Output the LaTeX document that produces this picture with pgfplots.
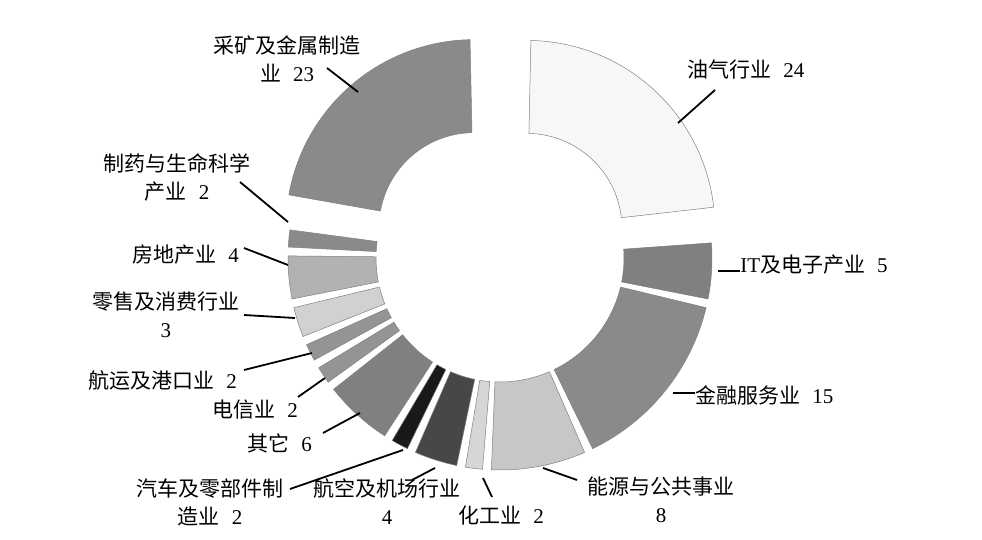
\documentclass[border=0pt]{standalone}
\usepackage{fontspec}
\setmainfont{Liberation Serif}
\newfontfamily\cjk{Noto Sans CJK SC}
\usepackage{pgfplots}
\usepackage{pgfplotstable}
\pgfplotsset{compat=1.18}

% sectors clockwise from 12 o'clock; shade = black percent
\pgfplotstableread[col sep=comma]{
sector,value,shade,explode,rin,rout
oil,24,3,40,95,188
it,5,50,0,124,212
finance,15,46,0,124,212
energy,8,22,0,124,212
chem,2,16,0,124,212
aviation,4,72,0,124,212
auto,2,90,0,124,212
other,6,50,0,124,212
telecom,2,42,0,124,212
shipping,2,42,0,124,212
retail,3,18,0,124,212
realestate,4,30,0,124,212
pharma,2,46,0,124,212
mining,23,46,40,95,188
}\datatable

\pgfplotstablegetrowsof{\datatable}
\pgfmathtruncatemacro\lastrow{\pgfplotsretval-1}
\def\total{0}
\pgfplotsforeachungrouped \i in {0,...,\lastrow}{%
  \pgfplotstablegetelem{\i}{value}\of\datatable
  \pgfmathsetmacro\total{\total+\pgfplotsretval}%
}

\newcommand\gap{\hspace{6bp}}

\begin{document}
\begin{tikzpicture}[font=\fontsize{10.5bp}{14bp}\selectfont]
\begin{axis}[
    x=0.5bp, y=0.5bp,
    xmin=0, xmax=982, ymin=0, ymax=540,
    y dir=reverse,
    hide axis,
    clip=false,
]
\path (rel axis cs:0,0) rectangle (rel axis cs:1,1);

\def\halfgap{1.2}
\def\cenx{500}
\def\ceny{258}
\def\curang{90}
\pgfplotsforeachungrouped \i in {0,...,\lastrow}{%
  \pgfplotstablegetelem{\i}{value}\of\datatable \let\v\pgfplotsretval
  \pgfplotstablegetelem{\i}{shade}\of\datatable \let\sh\pgfplotsretval
  \pgfplotstablegetelem{\i}{explode}\of\datatable \let\ex\pgfplotsretval
  \pgfplotstablegetelem{\i}{rin}\of\datatable \let\ri\pgfplotsretval
  \pgfplotstablegetelem{\i}{rout}\of\datatable \let\ro\pgfplotsretval
  \pgfmathsetmacro\sspan{360*\v/\total}%
  \pgfmathsetmacro\ahi{\curang-\halfgap}%
  \pgfmathsetmacro\alo{\curang-\sspan+\halfgap}%
  \pgfmathsetmacro\amid{\curang-\sspan/2}%
  \pgfmathsetmacro\cx{\cenx+\ex*cos(\amid)}%
  \pgfmathsetmacro\cy{\ceny-\ex*sin(\amid)}%
  \pgfmathsetmacro\xa{\cx+\ri*cos(\ahi)}%
  \pgfmathsetmacro\ya{\cy-\ri*sin(\ahi)}%
  \pgfmathsetmacro\xb{\cx+\ro*cos(\ahi)}%
  \pgfmathsetmacro\yb{\cy-\ro*sin(\ahi)}%
  \pgfmathsetmacro\xc{\cx+\ri*cos(\alo)}%
  \pgfmathsetmacro\yc{\cy-\ri*sin(\alo)}%
  \edef\temp{\noexpand\filldraw[fill=black!\sh, draw=black!50, line width=0.25bp]
    (axis cs:\xa,\ya) -- (axis cs:\xb,\yb)
    arc[start angle=\ahi, end angle=\alo, radius=\ro*0.5bp]
    -- (axis cs:\xc,\yc)
    arc[start angle=\alo, end angle=\ahi, radius=\ri*0.5bp] -- cycle;}%
  \temp
  \pgfmathsetmacro\curang{\curang-\sspan}%
}

% labels
\node[align=center, inner sep=0] at (axis cs:287,59) {{\cjk 采矿及金属制造}\\{\cjk 业}\gap 23};
\node[anchor=west, inner sep=0] at (axis cs:687,70) {{\cjk 油气行业}\gap 24};
\node[align=center, inner sep=0] at (axis cs:177,177) {{\cjk 制药与生命科学}\\{\cjk 产业}\gap 2};
\node[anchor=west, inner sep=0] at (axis cs:132,255) {{\cjk 房地产业}\gap 4};
\node[align=center, inner sep=0] at (axis cs:166,315) {{\cjk 零售及消费行业}\\3};
\node[anchor=west, inner sep=0] at (axis cs:88,380) {{\cjk 航运及港口业}\gap 2};
\node[anchor=west, inner sep=0] at (axis cs:212,410) {{\cjk 电信业}\gap 2};
\node[anchor=west, inner sep=0] at (axis cs:247,443) {{\cjk 其它}\gap 6};
\node[align=center, inner sep=0] at (axis cs:210,502) {{\cjk 汽车及零部件制}\\{\cjk 造业}\gap 2};
\node[align=center, inner sep=0] at (axis cs:387,502) {{\cjk 航空及机场行业}\\4};
\node[anchor=west, inner sep=0] at (axis cs:458,516) {{\cjk 化工业}\gap 2};
\node[align=center, inner sep=0] at (axis cs:661,500) {{\cjk 能源与公共事业}\\8};
\node[anchor=west, inner sep=0] at (axis cs:695,395) {{\cjk 金融服务业}\gap 15};
\node[anchor=west, inner sep=0] at (axis cs:740,265) {IT{\cjk 及电子产业}\gap 5};

% leader lines
\begin{scope}[line width=0.9bp]
\draw (axis cs:327,68) -- (axis cs:358,92);
\draw (axis cs:715,90) -- (axis cs:678,123);
\draw (axis cs:240,182) -- (axis cs:288,222);
\draw (axis cs:244,248) -- (axis cs:288,265);
\draw (axis cs:244,315) -- (axis cs:295,318);
\draw (axis cs:244,370) -- (axis cs:312,353);
\draw (axis cs:298,397) -- (axis cs:325,378);
\draw (axis cs:323,433) -- (axis cs:360,413);
\draw (axis cs:290,489) -- (axis cs:403,450);
\draw (axis cs:412,480) -- (axis cs:435,468);
\draw (axis cs:483,478) -- (axis cs:492,497);
\draw (axis cs:543,468) -- (axis cs:577,480);
\draw (axis cs:673,393) -- (axis cs:695,393);
\draw (axis cs:718,271) -- (axis cs:740,271);
\end{scope}
\end{axis}
\end{tikzpicture}
\end{document}
